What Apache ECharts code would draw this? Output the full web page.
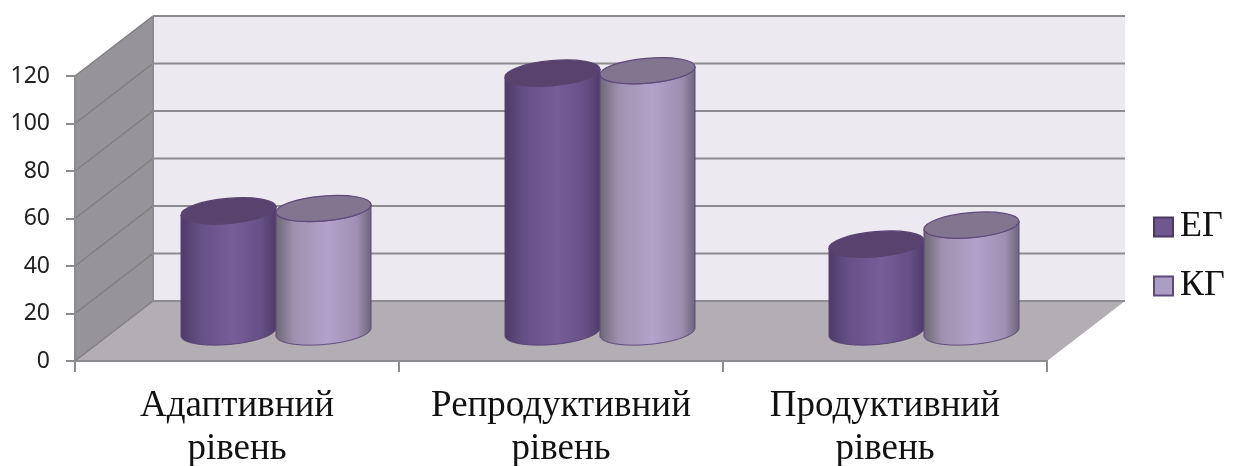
<!DOCTYPE html>
<html>
<head>
<meta charset="utf-8">
<script src="https://cdn.jsdelivr.net/npm/echarts@6/dist/echarts.min.js"></script>
<style>
    html, body { margin: 0; padding: 0; background: #fff; }
    #chart { width: 1240px; height: 466px; }
</style>
</head>
<body>
<div id="chart"></div>
<script>
// data
const categories = ['Адаптивний\nрівень', 'Репродуктивний\nрівень', 'Продуктивний\nрівень']
const egValues = [51, 109, 37]
const kgValues = [52, 110, 45]
const yTicks = [0, 20, 40, 60, 80, 100, 120]

// fake 3d depth of the box and of the bars inside it
const wallDx = 78
const wallDy = 60
const barDx = 39
const barDy = 29
const barShare = 95 / 324
const ry = 12.5
const tilt = (5 * Math.PI) / 180

const lineColor = '#8c8b8f'

const grad = (stops) =>
    new echarts.graphic.LinearGradient(
        0, 0, 1, 0,
        stops.map((s) => ({ offset: s[0], color: s[1] }))
    )

// points on a tilted ellipse, t from a to b
const arc = (cx, cy, rx, a, b) => {
    let pts = []
    for (let i = 0; i <= 48; i++) {
        let t = a + ((b - a) * i) / 48
        let x = rx * Math.cos(t)
        let y = ry * Math.sin(t)
        pts.push([cx + x * Math.cos(tilt) + y * Math.sin(tilt), cy - x * Math.sin(tilt) + y * Math.cos(tilt)])
    }
    return pts
}

const renderBox = (params, api) => {
    let g = params.coordSys
    let x0 = g.x
    let x1 = g.x + g.width
    let y0 = g.y + g.height
    let children = [
        {
            type: 'polygon',
            shape: { points: [[x0, g.y], [x0 + wallDx, g.y - wallDy], [x0 + wallDx, y0 - wallDy], [x0, y0]] },
            style: { fill: '#969498' },
        },
        {
            type: 'rect',
            shape: { x: x0 + wallDx, y: g.y - wallDy, width: g.width, height: g.height },
            style: { fill: '#ece9f1' },
        },
        {
            type: 'polygon',
            shape: { points: [[x0, y0], [x1, y0], [x1 + wallDx, y0 - wallDy], [x0 + wallDx, y0 - wallDy]] },
            style: { fill: '#b3aeb3' },
        },
    ]
    yTicks.forEach((v) => {
        let y = api.coord([0, v])[1]
        children.push({
            type: 'line',
            shape: { x1: x0, y1: y, x2: x0 + wallDx, y2: y - wallDy },
            style: { stroke: '#7f7f82', lineWidth: 1.5 },
        })
        children.push({
            type: 'line',
            shape: { x1: x0 + wallDx, y1: y - wallDy, x2: x1 + wallDx, y2: y - wallDy },
            style: { stroke: lineColor, lineWidth: 2 },
        })
    })
    children.push({
        type: 'line',
        shape: { x1: x0 + wallDx, y1: g.y - wallDy, x2: x0 + wallDx, y2: y0 - wallDy },
        style: { stroke: lineColor, lineWidth: 2 },
    })
    return { type: 'group', children: children }
}

const renderCylinder = (side, body, top, border) => (params, api) => {
    let p = api.coord([api.value(0), api.value(1)])
    let base = api.coord([api.value(0), 0])
    let width = api.size([1, 0])[0] * barShare
    let rx = width / 2 / Math.cos(tilt)
    let cx = p[0] + barDx + (side * width) / 2
    let topY = p[1] - barDy
    let baseY = base[1] - barDy
    return {
        type: 'group',
        children: [
            {
                type: 'polygon',
                shape: { points: arc(cx, baseY, rx, Math.PI, 0).concat(arc(cx, topY, rx, 0, Math.PI)) },
                style: { fill: grad(body), stroke: border, lineWidth: 1 },
            },
            {
                type: 'ellipse',
                shape: { cx: 0, cy: 0, rx: rx, ry: ry },
                x: cx,
                y: topY,
                rotation: tilt,
                style: { fill: top, stroke: border, lineWidth: 1.2 },
            },
        ],
    }
}

const myChart = echarts.init(document.querySelector('#chart'))

myChart.setOption({
    animation: false,
    backgroundColor: '#fff',
    legend: {
        orient: 'vertical',
        left: 1153,
        top: 207,
        padding: 0,
        itemGap: 19,
        itemWidth: 19,
        itemHeight: 19,
        icon: 'rect',
        data: ['ЕГ', 'КГ'],
        textStyle: { fontFamily: 'Liberation Serif', fontSize: 36, color: '#111', lineHeight: 38, padding: [2, 0, 0, 2] },
    },
    grid: { left: 75, right: 193, top: 76, height: 285, outerBoundsMode: 'none' },
    xAxis: {
        type: 'category',
        data: categories,
        z: 3,
        axisLine: { lineStyle: { color: lineColor, width: 2 } },
        axisTick: { show: true, length: 11, lineStyle: { color: lineColor, width: 2 } },
        axisLabel: {
            interval: 0,
            margin: 24,
            fontFamily: 'Liberation Serif',
            fontSize: 37,
            lineHeight: 43,
            color: '#111',
        },
    },
    yAxis: {
        type: 'value',
        min: 0,
        max: 120,
        interval: 20,
        z: 3,
        splitLine: { show: false },
        axisLine: { show: true, lineStyle: { color: lineColor, width: 2 } },
        axisTick: { show: true, length: 9, lineStyle: { color: lineColor, width: 2 } },
        axisLabel: { margin: 25, fontFamily: 'Noto Sans', fontSize: 23, color: '#222' },
    },
    series: [
        {
            type: 'custom',
            name: 'box',
            silent: true,
            z: 1,
            clip: false,
            renderItem: renderBox,
            data: [[0, 0]],
        },
        {
            type: 'custom',
            name: 'ЕГ',
            z: 4,
            clip: false,
            itemStyle: { color: '#6f5890', borderColor: '#4a3a63', borderWidth: 1.5 },
            renderItem: renderCylinder(
                -1,
                [[0, '#4c3a66'], [0.2, '#655086'], [0.55, '#775d99'], [0.85, '#654f85'], [1, '#4e3b68']],
                '#58436f',
                '#58436f'
            ),
            data: egValues.map((v, i) => [i, v]),
        },
        {
            type: 'custom',
            name: 'КГ',
            z: 5,
            clip: false,
            itemStyle: { color: '#ac9dc2', borderColor: '#5f497a', borderWidth: 1.5 },
            renderItem: renderCylinder(
                1,
                [[0, '#6c6774'], [0.2, '#9f92b0'], [0.55, '#b3a2c9'], [0.85, '#9e8fb2'], [1, '#6b6479']],
                '#82758f',
                '#5f497a'
            ),
            data: kgValues.map((v, i) => [i, v]),
        },
    ],
})
</script>
</body>
</html>
